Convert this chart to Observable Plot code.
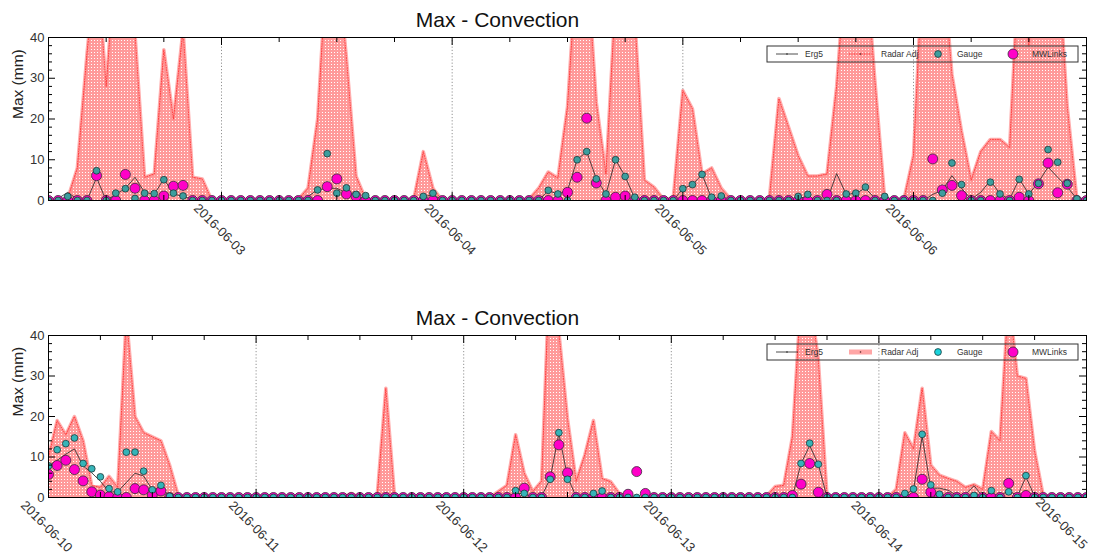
<!DOCTYPE html>
<html><head><meta charset="utf-8">
<script src="https://cdn.jsdelivr.net/npm/d3@7"></script>
<script src="https://cdn.jsdelivr.net/npm/@observablehq/plot@0.6"></script>
<style>
body{margin:0;background:#fff;}
#chart svg{display:block;}
</style>
</head><body><div id="chart"></div>
<script>
// ---------------- data ----------------
const titleText = "Max - Convection";
const yLabel = "Max (mm)";
const seriesNames = ["Erg5", "Radar Adj", "Gauge", "MWLinks"];
const yTicks = [0, 10, 20, 30, 40];
const yMinorTicks = [2,4,6,8,12,14,16,18,22,24,26,28,32,34,36,38];

// top panel: hourly values from 2016-06-02 06:00 to 2016-06-06 18:00
const topStart = "2016-06-02T06:00:00Z";
const topEnd = "2016-06-06T18:00:00Z";
const topDays = ["2016-06-03", "2016-06-04", "2016-06-05", "2016-06-06"];
const topRadar = [
  0, 0, 0.5, 8, 36, 60, 28, 60, 60, 41, 5.7, 6.5,
  37, 20, 42, 5.7, 5.3, 0, 0, 0, 0, 0, 0, 0,
  0, 0, 0.3, 3, 20, 60, 60, 35, 6, 0.3, 0, 0,
  0, 0, 0.3, 12, 3, 0, 0, 0, 0, 0, 0, 0,
  0, 0, 0.3, 3, 7, 5.5, 23, 60, 60, 24, 6.5, 50,
  60, 45, 5, 3.3, 0.3, 0.5, 27, 22.5, 6.5, 8, 3, 0.3,
  0, 0, 0, 0.5, 25, 18, 11, 6, 6, 6.5, 28, 60,
  60, 60, 29, 0.5, 0, 0.3, 11, 60, 60, 60, 31, 17,
  5, 12, 15, 15, 13, 60, 38, 60, 60, 60, 23, 0.3,
  0
];
const topErg5 = [
  0, 0.5, 2, 0.3, 0, 5.6, 0, 1.5, 3, 5.7, 2, 1.5,
  5.3, 1.6, 1, 0.3, 0, 0, 0, 0, 0, 0, 0, 0,
  0, 0, 0, 1, 2.6, 3, 3, 1.8, 1, 0.3, 0, 0,
  0, 0, 0, 0.8, 1.5, 0, 0, 0, 0, 0, 0, 0,
  0, 0, 0, 0, 2.5, 1.5, 2.5, 10, 12, 5.3, 1.6, 10,
  5.9, 0.5, 0, 0, 0, 0, 2.9, 3.9, 6.4, 0.5, 0, 0,
  0, 0, 0, 0, 0, 0, 0.5, 1, 0, 0, 6.6, 1.5,
  1.8, 3, 0.5, 0, 0, 0, 0, 0, 1.5, 2.5, 6.1, 3,
  0.3, 2, 4.9, 1.6, 0.3, 5.3, 1.6, 4.5, 8.2, 5.7, 3.3, 0.4,
  0
];
const topGauge = [
  0, 0, 1, 0, 0, 7.3, 0, 1.8, 2.9, 0.5, 1.8, 1.7,
  5.1, 1.8, 1.1, 0, 0, 0, 0, 0, 0, 0, 0, 0,
  0, 0, 0, 0, 2.6, 11.5, 1.8, 3.1, 1.5, 1.2, 0, 0,
  0, 0, 0, 1, 1.8, 0, 0, 0, 0, 0, 0, 0,
  0, 0, 0, 0, 2.5, 1.6, 0, 10, 12, 5.3, 1.6, 10,
  5.9, 0.8, 0, 0, 0, 0, 2.9, 3.9, 6.4, 0.8, 1.1, 0,
  0, 0, 0, 0, 0, 0, 1, 1.5, 0, 0, 0, 1.6,
  1.8, 3.3, 0, 1, 0, 0, 0, 0, 0, 1.8, 9.2, 3.9,
  0, 0, 4.5, 1.6, 0, 5.2, 1.6, 4.2, 12.5, 9.4, 4.2, 0.4,
  0
];
const topMWLinks = [
  0, 0, 0, 0, 0, 6.1, 0, 0, 6.4, 3.0, 0, 0,
  1.1, 3.5, 3.7, 0, 0, 0, 0, 0, 0, 0, 0, 0,
  0, 0, 0, 0, 0, 3.4, 5.3, 1.6, 1, 0, 0, 0,
  0, 0, 0, 0, 0, 0, 0, 0, 0, 0, 0, 0,
  0, 0, 0, 0, 0, 0, 2, 5.7, 20.2, 4.3, 0, 0.8,
  1.1, 0, 0, 0, 0, 0, 0, 0, 0, 0, 0, 0,
  0, 0, 0, 0, 0, 0, 0, 0, 0, 1.5, 0, 0,
  0, 0, 0, 0, 0, 0, 0, 0, 10.2, 2.6, 3.7, 1.2,
  0, 0, 0, 0, 0, 0.8, 0, 4.1, 9.2, 1.9, 4.0, 0,
  0
];

// bottom panel: hourly values from 2016-06-10 00:00 to 2016-06-15 00:00
const botStart = "2016-06-10T00:00:00Z";
const botEnd = "2016-06-15T00:00:00Z";
const botDays = ["2016-06-10", "2016-06-11", "2016-06-12", "2016-06-13", "2016-06-14", "2016-06-15"];
const botRadar = [
  10, 19, 15.5, 20, 14, 3, 2.5, 5.2, 2.5, 45, 20, 16,
  15, 14, 8, 0.5, 0, 0, 0, 0, 0, 0, 0, 0,
  0, 0, 0, 0, 0, 0, 0, 0, 0, 0, 0, 1,
  0, 0, 0.5, 27, 0.5, 0, 0, 0, 0, 0, 0, 0,
  0, 0, 0, 0, 1.5, 3, 15.5, 6, 1.5, 4, 60, 41,
  19.5, 4, 10.5, 19, 4.7, 3.9, 1, 0, 0, 0, 0, 0,
  0, 0, 0, 0, 0, 0, 0, 0, 0, 0, 0, 0.3,
  2.7, 3, 15, 50, 50, 34, 0.5, 0, 0, 0, 0, 0,
  0, 0, 2, 16, 12, 27, 8, 5.5, 4.7, 4, 2.5, 3.2,
  2, 16.3, 14, 50, 30, 29.4, 11.5, 0.5, 0, 0, 0, 0,
  0
];
const botErg5 = [
  7.8, 9.2, 10.7, 12, 7.8, 6.1, 4, 1.4, 1.4, 3.7, 6, 5.3,
  1.9, 2.4, 0.4, 0, 0, 0, 0, 0, 0, 0, 0, 0,
  0, 0, 0, 0, 0, 0, 0, 0, 0, 0, 0, 0,
  0, 0, 0, 0, 0, 0, 0, 0, 0, 0, 0, 0,
  0, 0, 0, 0, 0, 0.3, 1, 1, 0, 0.2, 4.7, 15.8,
  5.1, 0.2, 0, 0.5, 1, 0, 0, 0, 0, 0, 0, 0,
  0, 0, 0, 0, 0, 0, 0, 0, 0, 0, 0, 0,
  0, 0, 0.2, 8.4, 12.8, 8.2, 0, 0, 0, 0, 0, 0,
  0, 0, 0, 0.8, 1.9, 15, 2.3, 2.3, 1.8, 0.5, 0.8, 2.9,
  0.3, 0.8, 0.3, 1.8, 0.3, 5.1, 0.3, 0, 0, 0, 0, 0,
  0
];
const botGauge = [
  7.8, 11.8, 13.3, 14.7, 8.4, 7.1, 5.1, 2.2, 1.4, 11.2, 11.2, 6.5,
  1.9, 3.0, 0.3, 0, 0, 0, 0, 0, 0, 0, 0, 0,
  0, 0, 0, 0, 0, 0, 0, 0, 0, 0, 0, 0,
  0, 0, 0, 0, 0, 0, 0, 0, 0, 0, 0, 0,
  0, 0, 0, 0, 0, 0, 1.7, 1, 0, 0, 4.5, 16,
  4.5, 0, 0, 1, 1.6, 0, 0, 0, 0, 0, 0, 0,
  0, 0, 0, 0, 0, 0, 0, 0, 0, 0, 0, 0,
  0, 0, 0, 8.4, 13.4, 8.2, 0, 0, 0, 0, 0, 0,
  0, 0, 0, 1, 2.1, 15.6, 3.1, 0.8, 0, 0, 0, 0.5,
  0, 1.7, 0, 1.4, 0, 5.4, 0, 0, 0, 0, 0, 0,
  0
];
const botMWLinks = [
  5.7, 7.9, 9.2, 6.9, 4.1, 1.4, 0.6, 0.2, 0, 0, 2.2, 1.9,
  0.6, 1.6, 0, 0, 0, 0, 0, 0, 0, 0, 0, 0,
  0, 0, 0, 0, 0, 0, 0, 0, 0, 0, 0, 0,
  0, 0, 0, 0, 0, 0, 0, 0, 0, 0, 0, 0,
  0, 0, 0, 0, 0, 0, 0, 2.3, 0, 0, 5.1, 13,
  6.1, 0, 0, 0, 0, 0, 0, 0.8, 6.4, 1.0, 0, 0,
  0, 0, 0, 0, 0, 0, 0, 0, 0, 0, 0, 0,
  0, 0, 0.5, 3.3, 8.4, 1.3, 0, 0, 0, 0, 0, 0,
  0, 0, 0, 0, 0, 4.5, 1.3, 0, 0, 0, 0, 0,
  0, 0, 0, 3.5, 0, 0.5, 0, 0, 0, 0, 0, 0,
  0
];

// ---------------- drawing ----------------
const W = 1096, ML = 48, MR = 10;
const FONT = "'Liberation Sans', Arial, Helvetica, sans-serif";
const fmt = d3.utcFormat("%Y-%m-%d");

function panel(o) {
  const t0 = new Date(o.start), t1 = new Date(o.end);
  const rows = o.radar.map((r, i) => ({
    t: new Date(+t0 + i * 3600e3), radar: r, erg5: o.erg5[i], gauge: o.gauge[i], mw: o.mw[i]
  }));
  const fw = W - ML - MR;
  const fh = o.height - o.marginTop - o.marginBottom;
  const days = o.days.map(d => new Date(d + "T00:00:00Z"));
  const innerDays = days.filter(d => d > t0 && d < t1);
  const labelDays = days.filter(d => d < t1);
  const endDays = days.filter(d => +d === +t1);
  const sixH = d3.utcHour.every(6).range(t0, new Date(+t1 + 1)).filter(d => d.getUTCHours() !== 0);
  const majorX = d3.utcDay.range(t0, new Date(+t1 + 1));
  const pid = "rp" + o.id;
  const labelStyle = {frameAnchor: "bottom", dy: 29, rotate: 45, textAnchor: "middle", lineAnchor: "middle",
                      text: d => fmt(d), fontSize: 13, fill: "#333"};

  const plot = Plot.plot({
    width: W, height: o.height,
    marginLeft: ML, marginRight: MR, marginTop: o.marginTop, marginBottom: o.marginBottom,
    style: {fontFamily: FONT, fontSize: "13px", color: "#333", background: "#fff", overflow: "visible"},
    x: {type: "utc", domain: [t0, t1], axis: null},
    y: {domain: [0, 40], axis: null},
    marks: [
      Plot.ruleX(innerDays, {x: d => d, stroke: "#777", strokeWidth: 0.8, strokeDasharray: "1.2,2"}),
      Plot.areaY(rows, {x: "t", y: "radar", fill: `url(#${pid})`, clip: true}),
      Plot.lineY(rows, {x: "t", y: "radar", stroke: "#ff8c8c", strokeWidth: 3.5, strokeOpacity: 0.7, clip: true}),
      Plot.lineY(rows, {x: "t", y: "radar", stroke: "#ff2a2a", strokeWidth: 0.8, strokeDasharray: "1,1.5", clip: true}),
      Plot.lineY(rows, {x: "t", y: "erg5", stroke: "#222", strokeWidth: 0.8, clip: true}),
      Plot.dot(rows, {x: "t", y: "mw", r: 5, fill: "#ff00c8", stroke: "#3a2a3a", strokeWidth: 0.8, clip: true}),
      Plot.dot(rows, {x: "t", y: "gauge", r: 3.4, fill: o.gaugeFill, stroke: "#1e3a3a", strokeWidth: 0.8, clip: true}),
      Plot.frame({stroke: "#000", strokeWidth: 1}),
      // ticks pointing inward on all four sides
      Plot.tickY(yTicks, {y: d => d, insetRight: fw - 7, stroke: "#000"}),
      Plot.tickY(yMinorTicks, {y: d => d, insetRight: fw - 4, stroke: "#000"}),
      Plot.tickY(yTicks, {y: d => d, insetLeft: fw - 7, stroke: "#000"}),
      Plot.tickY(yMinorTicks, {y: d => d, insetLeft: fw - 4, stroke: "#000"}),
      Plot.tickX(majorX, {x: d => d, insetTop: fh - 8, stroke: "#000"}),
      Plot.tickX(sixH, {x: d => d, insetTop: fh - 5, stroke: "#000"}),
      Plot.tickX(majorX, {x: d => d, insetBottom: fh - 8, stroke: "#000"}),
      Plot.tickX(sixH, {x: d => d, insetBottom: fh - 5, stroke: "#000"}),
      // tick labels
      Plot.text(yTicks, {y: d => d, frameAnchor: "left", dx: -4, textAnchor: "end", lineAnchor: "middle", text: d => String(d), fontSize: 13, fill: "#333"}),
      Plot.text(labelDays, {x: d => d, ...labelStyle, dx: -2}),
      Plot.text(endDays, {x: d => d, ...labelStyle, dx: -25, dy: 26}),
      Plot.text([yLabel], {frameAnchor: "left", dx: -30, rotate: -90, lineAnchor: "middle", fontSize: 15.5, fill: "#222"}),
      Plot.text([titleText], {frameAnchor: "top-left", dx: 449, dy: -17, textAnchor: "middle", lineAnchor: "middle", fontSize: 21, fill: "#111"})
    ]
  });

  const svg = d3.select(plot);
  const defs = svg.insert("defs", ":first-child");
  const pat = defs.append("pattern").attr("id", pid).attr("width", 3).attr("height", 3).attr("patternUnits", "userSpaceOnUse");
  pat.append("rect").attr("width", 3).attr("height", 3).attr("fill", "#ff9a9a");
  pat.append("rect").attr("x", 1).attr("y", 1).attr("width", 1).attr("height", 1).attr("fill", "#ffffff");

  // legend box
  const ly = o.marginTop + 9, lc = ly + 8;
  const g = svg.append("g").attr("font-family", FONT).attr("font-size", 8.5).attr("fill", "#333").attr("text-anchor", "start");
  g.append("rect").attr("x", 767).attr("y", ly).attr("width", 311).attr("height", 16)
    .attr("fill", "none").attr("stroke", "#333").attr("stroke-width", 1);
  // Erg5
  g.append("line").attr("x1", 776).attr("x2", 798).attr("y1", lc).attr("y2", lc).attr("stroke", "#222").attr("stroke-width", 0.8);
  g.append("circle").attr("cx", 787).attr("cy", lc).attr("r", 0.8).attr("fill", "#222");
  g.append("text").attr("x", 805).attr("y", lc + 3).text(seriesNames[0]);
  // Radar Adj
  if (o.thickRadar) {
    g.append("line").attr("x1", 849).attr("x2", 872).attr("y1", lc).attr("y2", lc).attr("stroke", "#ff9090").attr("stroke-opacity", 0.8).attr("stroke-width", 5);
  } else {
    g.append("line").attr("x1", 849).attr("x2", 872).attr("y1", lc).attr("y2", lc).attr("stroke", "#ff8c8c").attr("stroke-opacity", 0.8).attr("stroke-width", 2.5);
    g.append("line").attr("x1", 849).attr("x2", 872).attr("y1", lc).attr("y2", lc).attr("stroke", "#ff2a2a").attr("stroke-width", 0.8).attr("stroke-dasharray", "1,1.5");
  }
  g.append("circle").attr("cx", 860.5).attr("cy", lc).attr("r", 0.8).attr("fill", "#552222");
  g.append("text").attr("x", 881).attr("y", lc + 3).text(seriesNames[1]);
  // Gauge
  g.append("circle").attr("cx", 938).attr("cy", lc).attr("r", 3.4).attr("fill", o.legendGaugeFill).attr("stroke", "#1e3a3a").attr("stroke-width", 0.8);
  g.append("text").attr("x", 957).attr("y", lc + 3).text(seriesNames[2]);
  // MWLinks
  g.append("circle").attr("cx", 1013).attr("cy", lc).attr("r", 5).attr("fill", "#ff00c8").attr("stroke", "#3a2a3a").attr("stroke-width", 0.8);
  g.append("text").attr("x", 1032).attr("y", lc + 3).text(seriesNames[3]);

  return plot;
}

const chart = document.getElementById("chart");
chart.appendChild(panel({
  id: "Top", start: topStart, end: topEnd, days: topDays,
  radar: topRadar, erg5: topErg5, gauge: topGauge, mw: topMWLinks,
  height: 277, marginTop: 37, marginBottom: 77,
  gaugeFill: "#3c9e9e", legendGaugeFill: "#3c9e9e", thickRadar: false
}));
chart.appendChild(panel({
  id: "Bot", start: botStart, end: botEnd, days: botDays,
  radar: botRadar, erg5: botErg5, gauge: botGauge, mw: botMWLinks,
  height: 277, marginTop: 58, marginBottom: 57,
  gaugeFill: "#36b4b8", legendGaugeFill: "#19d3dc", thickRadar: true
}));
</script>
</body></html>
